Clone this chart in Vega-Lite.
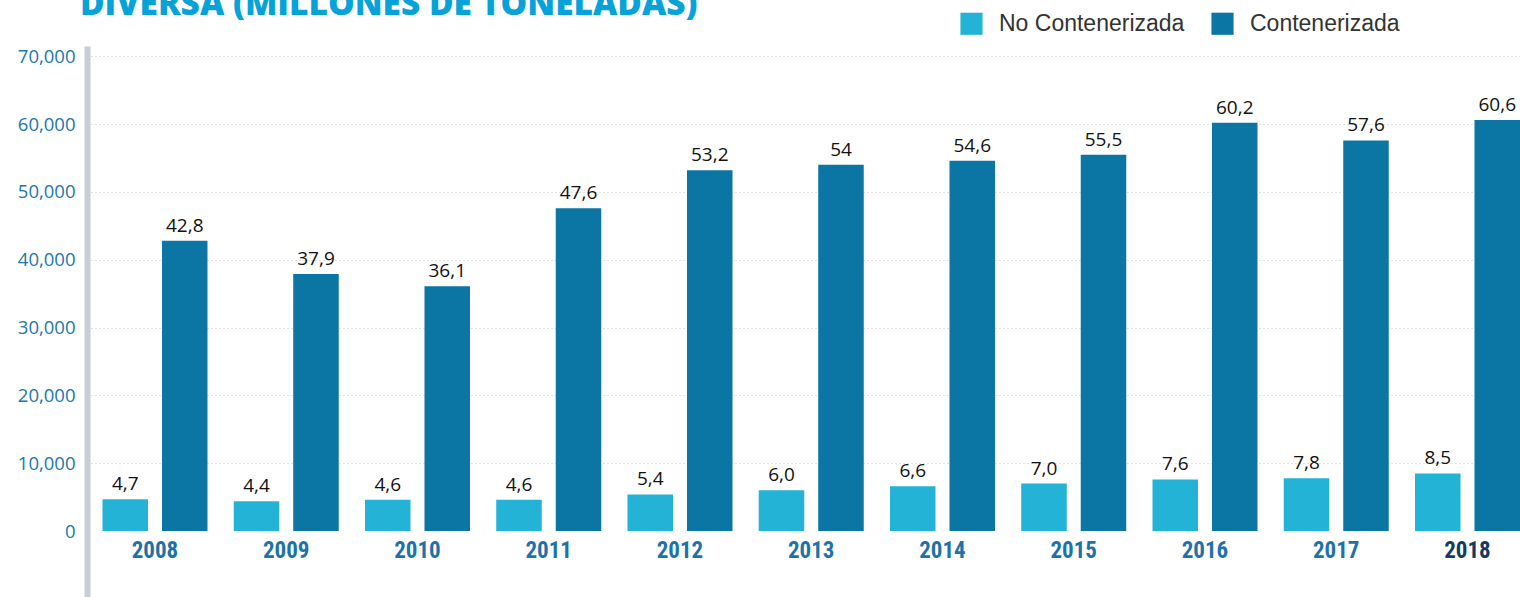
{
  "$schema": "https://vega.github.io/schema/vega-lite/v6.json",
  "autosize": {"type": "none"},
  "padding": {"left": 87, "top": 46, "right": 0, "bottom": 0},
  "width": 1433,
  "height": 551,
  "background": "white",
  "config": {"view": {"stroke": null}},
  "title": {
    "text": "DIVERSA (MILLONES DE TONELADAS)",
    "anchor": "start",
    "frame": "group",
    "font": "Open Sans",
    "fontWeight": 800,
    "fontSize": 33.5,
    "color": "#07a3d8",
    "dx": -7,
    "dy": 10,
    "offset": 0
  },
  "data": {
    "values": [
      {"anio": "2008", "tipo": "No Contenerizada", "millones": 4.7, "etiqueta": "4,7"},
      {"anio": "2008", "tipo": "Contenerizada", "millones": 42.8, "etiqueta": "42,8"},
      {"anio": "2009", "tipo": "No Contenerizada", "millones": 4.4, "etiqueta": "4,4"},
      {"anio": "2009", "tipo": "Contenerizada", "millones": 37.9, "etiqueta": "37,9"},
      {"anio": "2010", "tipo": "No Contenerizada", "millones": 4.6, "etiqueta": "4,6"},
      {"anio": "2010", "tipo": "Contenerizada", "millones": 36.1, "etiqueta": "36,1"},
      {"anio": "2011", "tipo": "No Contenerizada", "millones": 4.6, "etiqueta": "4,6"},
      {"anio": "2011", "tipo": "Contenerizada", "millones": 47.6, "etiqueta": "47,6"},
      {"anio": "2012", "tipo": "No Contenerizada", "millones": 5.4, "etiqueta": "5,4"},
      {"anio": "2012", "tipo": "Contenerizada", "millones": 53.2, "etiqueta": "53,2"},
      {"anio": "2013", "tipo": "No Contenerizada", "millones": 6.0, "etiqueta": "6,0"},
      {"anio": "2013", "tipo": "Contenerizada", "millones": 54, "etiqueta": "54"},
      {"anio": "2014", "tipo": "No Contenerizada", "millones": 6.6, "etiqueta": "6,6"},
      {"anio": "2014", "tipo": "Contenerizada", "millones": 54.6, "etiqueta": "54,6"},
      {"anio": "2015", "tipo": "No Contenerizada", "millones": 7.0, "etiqueta": "7,0"},
      {"anio": "2015", "tipo": "Contenerizada", "millones": 55.5, "etiqueta": "55,5"},
      {"anio": "2016", "tipo": "No Contenerizada", "millones": 7.6, "etiqueta": "7,6"},
      {"anio": "2016", "tipo": "Contenerizada", "millones": 60.2, "etiqueta": "60,2"},
      {"anio": "2017", "tipo": "No Contenerizada", "millones": 7.8, "etiqueta": "7,8"},
      {"anio": "2017", "tipo": "Contenerizada", "millones": 57.6, "etiqueta": "57,6"},
      {"anio": "2018", "tipo": "No Contenerizada", "millones": 8.5, "etiqueta": "8,5"},
      {"anio": "2018", "tipo": "Contenerizada", "millones": 60.6, "etiqueta": "60,6"}
    ]
  },
  "encoding": {
    "x": {
      "field": "anio",
      "type": "nominal",
      "sort": null,
      "scale": {"paddingInner": 0.2, "paddingOuter": 0.059, "align": 1},
      "axis": {
        "title": null,
        "orient": "bottom",
        "offset": -60,
        "domain": false,
        "ticks": false,
        "labelAngle": 0,
        "labelPadding": 2,
        "labelFont": "Liberation Sans Narrow, Roboto Condensed, Arial Narrow, sans-serif",
        "labelFontWeight": "bold",
        "labelFontSize": 23,
        "labelColor": {"condition": {"test": "datum.value === '2018'", "value": "#163b63"}, "value": "#1f72a8"}
      }
    },
    "xOffset": {
      "field": "tipo",
      "type": "nominal",
      "sort": ["No Contenerizada", "Contenerizada"],
      "scale": {"paddingInner": 0.235, "paddingOuter": 0}
    },
    "y": {
      "field": "millones",
      "type": "quantitative",
      "scale": {"domain": [-9.73, 71.53], "nice": false, "zero": false},
      "axis": {
        "title": null,
        "values": [0, 10, 20, 30, 40, 50, 60, 70],
        "labelExpr": "format(datum.value * 1000, ',')",
        "ticks": false,
        "domain": true,
        "domainColor": "#c6ced7",
        "domainWidth": 6,
        "labelPadding": 12,
        "labelFont": "Open Sans",
        "labelFontSize": 18.5,
        "labelColor": "#1b77ac",
        "grid": true,
        "gridColor": "#c4c4c4",
        "gridDash": [1, 3],
        "gridWidth": 1,
        "gridOpacity": {"condition": {"test": "datum.value === 0", "value": 0}, "value": 1}
      }
    }
  },
  "layer": [
    {
      "mark": {"type": "bar"},
      "encoding": {
        "y2": {"datum": 0},
        "color": {
          "field": "tipo",
          "type": "nominal",
          "scale": {"domain": ["No Contenerizada", "Contenerizada"], "range": ["#23b3d7", "#0b76a3"]},
          "legend": {
            "title": null,
            "orient": "none",
            "direction": "horizontal",
            "legendX": 873,
            "legendY": -34,
            "padding": 0,
            "symbolType": "square",
            "symbolSize": 490,
            "symbolStrokeWidth": 0,
            "labelFont": "Liberation Sans",
            "labelFontSize": 23,
            "labelColor": "#333333",
            "labelOffset": 16,
            "columnPadding": 26,
            "labelLimit": 400
          }
        }
      }
    },
    {
      "mark": {"type": "text", "baseline": "bottom", "dy": -5, "font": "Open Sans", "fontSize": 19, "color": "#111111"},
      "encoding": {
        "text": {"field": "etiqueta"}
      }
    }
  ]
}
